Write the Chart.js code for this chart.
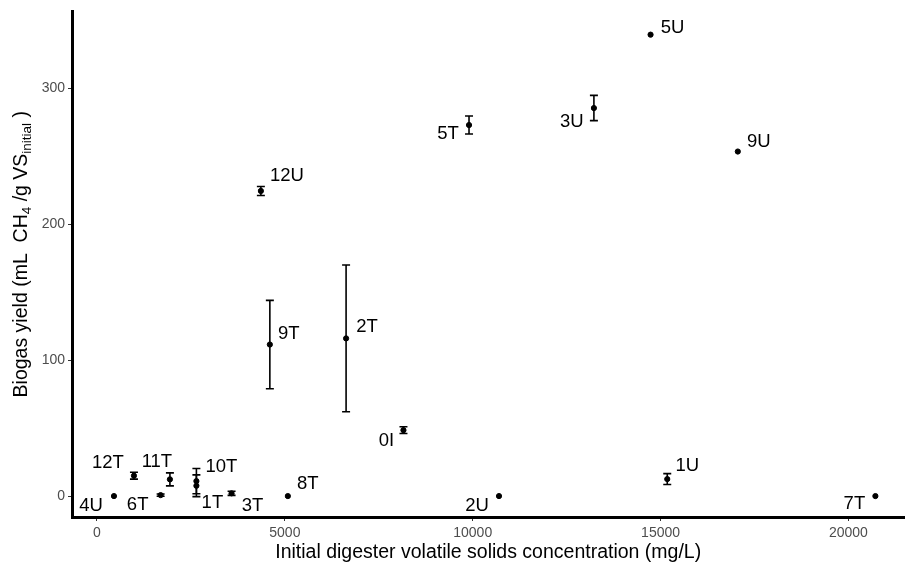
<!DOCTYPE html>
<html>
<head>
<meta charset="utf-8">
<script src="https://cdn.jsdelivr.net/npm/chart.js@4.4.1/dist/chart.umd.min.js"></script>
<style>
  html, body { margin: 0; padding: 0; background: #fff; }
  canvas { display: block; }
</style>
</head>
<body>
<canvas id="biogasChart" width="908" height="567"></canvas>
<script>
// digester ids
const digesters = ["4U", "12T", "6T", "11T", "10T", "1T", "3T", "8T", "12U", "9T",
  "2T", "0I", "2U", "5T", "3U", "5U", "9U", "1U", "7T"];
// initial VS concentration (mg/L)
const vsInitial = [452, 984, 1694, 1941, 2646, 2646, 3582, 5080, 4362, 4601,
  6630, 8157, 10700, 9902, 13226, 14734, 17056, 15178, 20718];
// biogas yield (mL CH4 / g VS)
const biogasYield = [0, 15, 0.7, 12.3, 11, 7.6, 2, 0, 224.5, 111.5,
  116, 48.5, 0, 273, 285.5, 339.5, 253.5, 12.5, 0];
// +/- error
const yieldErr = [0, 2.5, 0.8, 4.8, 9.3, 8, 1.5, 0, 3.3, 32.5,
  54, 2.5, 0, 6.6, 9.3, 0, 0, 4, 0];

const xTicks = [0, 5000, 10000, 15000, 20000];
const yTicks = [0, 100, 200, 300];

// label nudge in px from point (dx, dy)
const labelNudge = [[-23, 10], [-26, -13], [-23, 10], [-13, -17], [25, -14], [16, 17],
  [21, 13], [20, -12], [26, -15], [19, -11], [21, -12], [-17, 11], [-22, 10],
  [-21, 9], [-22, 14], [22, -7], [21, -10], [20, -13], [-21, 8]];

const FONT = "'Liberation Sans', Arial, sans-serif";

const points = vsInitial.map((x, i) => ({ x: x, y: biogasYield[i] }));

// error bars + point labels
const errorBarPlugin = {
  id: "errorBars",
  afterDatasetsDraw(chart) {
    const ctx = chart.ctx;
    const xs = chart.scales.x;
    const ys = chart.scales.y;
    ctx.save();
    ctx.strokeStyle = "#000";
    ctx.lineWidth = 1.6;
    vsInitial.forEach((x, i) => {
      const e = yieldErr[i];
      if (!e) return;
      const px = xs.getPixelForValue(x);
      const top = ys.getPixelForValue(biogasYield[i] + e);
      const bot = ys.getPixelForValue(biogasYield[i] - e);
      ctx.beginPath();
      ctx.moveTo(px, top); ctx.lineTo(px, bot);
      ctx.moveTo(px - 4, top); ctx.lineTo(px + 4, top);
      ctx.moveTo(px - 4, bot); ctx.lineTo(px + 4, bot);
      ctx.stroke();
    });
    ctx.fillStyle = "#000";
    ctx.font = "18.5px " + FONT;
    ctx.textAlign = "center";
    ctx.textBaseline = "middle";
    digesters.forEach((lab, i) => {
      const px = xs.getPixelForValue(vsInitial[i]);
      const py = ys.getPixelForValue(biogasYield[i]);
      ctx.fillText(lab, px + labelNudge[i][0], py + labelNudge[i][1]);
    });
    ctx.restore();
  }
};

// y title with subscripts
const yTitlePlugin = {
  id: "yTitle",
  afterDraw(chart) {
    const ctx = chart.ctx;
    const parts = [
      { t: "Biogas yield (mL  CH", s: 19.5, dy: 0 },
      { t: "4", s: 13.5, dy: 5 },
      { t: " /g VS", s: 19.5, dy: 0 },
      { t: "initial", s: 13.5, dy: 5 },
      { t: " )", s: 19.5, dy: 0 }
    ];
    ctx.save();
    let total = 0;
    parts.forEach(p => { ctx.font = p.s + "px " + FONT; p.w = ctx.measureText(p.t).width; total += p.w; });
    const cy = (chart.chartArea.top + chart.chartArea.bottom) / 2 - 10;
    ctx.translate(22, cy);
    ctx.rotate(-Math.PI / 2);
    ctx.fillStyle = "#000";
    ctx.textBaseline = "middle";
    ctx.textAlign = "left";
    let x = -total / 2;
    parts.forEach(p => {
      ctx.font = p.s + "px " + FONT;
      ctx.fillText(p.t, x, p.dy);
      x += p.w;
    });
    ctx.restore();
  }
};

new Chart(document.getElementById("biogasChart"), {
  type: "scatter",
  data: {
    datasets: [{
      data: points,
      backgroundColor: "#000",
      borderColor: "#000",
      pointRadius: 2.6,
      pointHoverRadius: 2.6
    }]
  },
  options: {
    responsive: false,
    animation: false,
    layout: { padding: { top: 11, right: 3, left: 0, bottom: 0 } },
    plugins: {
      legend: { display: false },
      tooltip: { enabled: false }
    },
    scales: {
      x: {
        type: "linear",
        min: -665,
        max: 21490,
        afterFit: (s) => { s.height = 50; },
        afterBuildTicks: (s) => { s.ticks = xTicks.map(v => ({ value: v })); },
        grid: { drawOnChartArea: false, drawTicks: true, tickLength: 4, color: "#333" },
        border: { display: true, color: "#000", width: 3 },
        ticks: {
          color: "#4d4d4d",
          font: { size: 14, family: FONT },
          padding: 4,
          maxRotation: 0,
          callback: (v) => String(v)
        },
        title: {
          display: true,
          text: "Initial digester volatile solids concentration (mg/L)",
          color: "#000",
          font: { size: 19.5, family: FONT },
          padding: { top: 0, bottom: 3 }
        }
      },
      y: {
        type: "linear",
        min: -15.4,
        max: 356.6,
        afterFit: (s) => { s.width = 72; },
        afterBuildTicks: (s) => { s.ticks = yTicks.map(v => ({ value: v })); },
        grid: { drawOnChartArea: false, drawTicks: true, tickLength: 4, color: "#333" },
        border: { display: true, color: "#000", width: 3 },
        ticks: {
          color: "#4d4d4d",
          font: { size: 14, family: FONT },
          padding: 3,
          callback: (v) => String(v)
        }
      }
    }
  },
  plugins: [errorBarPlugin, yTitlePlugin]
});
</script>
</body>
</html>
